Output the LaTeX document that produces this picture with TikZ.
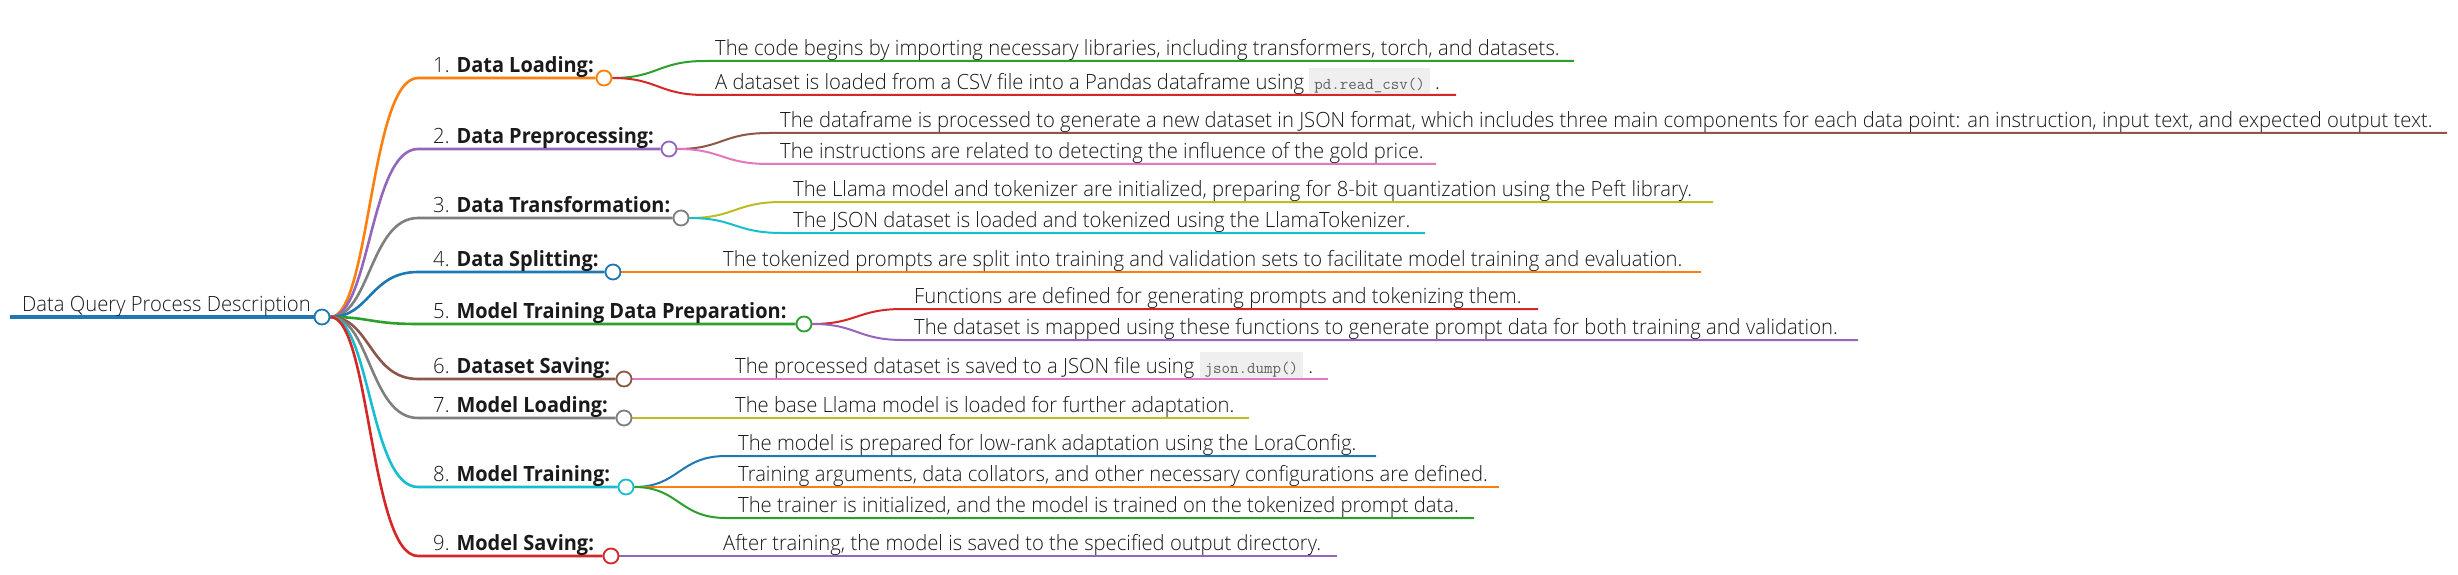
\documentclass[tikz,border=0pt]{standalone}
\usepackage{fontspec}
\setmainfont{Open Sans Light}[FakeStretch=0.963]
\newfontfamily\lblfont{Open Sans}[FakeStretch=0.95]
\pgfdeclarelayer{bg}
\pgfsetlayers{bg,main}
\definecolor{cblue}{HTML}{1F77B4}
\definecolor{corange}{HTML}{FF7F0E}
\definecolor{cgreen}{HTML}{2CA02C}
\definecolor{cred}{HTML}{D62728}
\definecolor{cpurple}{HTML}{9467BD}
\definecolor{cbrown}{HTML}{8C564B}
\definecolor{cpink}{HTML}{E377C2}
\definecolor{cgray}{HTML}{7F7F7F}
\definecolor{colive}{HTML}{BCBD22}
\definecolor{ccyan}{HTML}{17BECF}
\definecolor{txtc}{HTML}{1A1A1A}
\definecolor{codebg}{HTML}{EFEFEF}
\newcommand{\codebx}[1]{{\setlength{\fboxsep}{0pt}\colorbox{codebg}{\hspace{5pt}\rule[-4pt]{0pt}{25.5pt}{\ttfamily\fontsize{16.5}{16.5}\selectfont\color{black!62}#1}\hspace{5pt}}}}
\newcommand{\lbl}[2]{#1 {\lblfont\bfseries #2}}
\begin{document}
\begin{tikzpicture}[x=1pt,y=-1pt,
  dot/.style={circle, draw=#1, fill=white, line width=1.8pt, minimum size=15pt, inner sep=0pt},
  l0/.style={line width=4.5pt, draw=cblue},
  l1/.style={line width=2.6pt, draw=#1},
  l2/.style={line width=2pt, draw=#1},
  txt/.style={anchor=base west, inner sep=0pt, font=\fontsize{21}{24}\selectfont, text=txtc}]
\useasboundingbox (0,0) rectangle (2458,575);

% root
\coordinate (R0) at (10,317);
\node[dot=cblue] (R) at (322,317) {};
\node[txt] (RT) at (22,311.5) {Data Query Process Description};

% level 1
\coordinate (A1) at (418,78);  \node[dot=corange] (N1) at (604,78) {};
\node[txt] (L1) at (433,72.5) {\lbl{1.}{Data Loading:}};
\coordinate (A2) at (418,149); \node[dot=cpurple] (N2) at (669,149) {};
\node[txt] (L2) at (433,143.5) {\lbl{2.}{Data Preprocessing:}};
\coordinate (A3) at (418,218); \node[dot=cgray] (N3) at (681,218) {};
\node[txt] (L3) at (433,212.5) {\lbl{3.}{Data Transformation:}};
\coordinate (A4) at (418,272); \node[dot=cblue] (N4) at (613,272) {};
\node[txt] (L4) at (433,266.5) {\lbl{4.}{Data Splitting:}};
\coordinate (A5) at (418,324); \node[dot=cgreen] (N5) at (804,324) {};
\node[txt] (L5) at (433,318.5) {\lbl{5.}{Model Training Data Preparation:}};
\coordinate (A6) at (418,379); \node[dot=cbrown] (N6) at (624,379) {};
\node[txt] (L6) at (433,373.5) {\lbl{6.}{Dataset Saving:}};
\coordinate (A7) at (418,418); \node[dot=cgray] (N7) at (624,418) {};
\node[txt] (L7) at (433,412.5) {\lbl{7.}{Model Loading:}};
\coordinate (A8) at (418,487); \node[dot=ccyan] (N8) at (626,487) {};
\node[txt] (L8) at (433,481.5) {\lbl{8.}{Model Training:}};
\coordinate (A9) at (418,556); \node[dot=cred] (N9) at (611,556) {};
\node[txt] (L9) at (433,550.5) {\lbl{9.}{Model Saving:}};

% level 2 texts
\coordinate (S11) at (705,61);  \coordinate (E11) at (1574,61);
\node[txt] (C11) at (715,55.5) {The code begins by importing necessary libraries, including transformers, torch, and datasets.};
\coordinate (S12) at (705,95);  \coordinate (E12) at (1456,95);
\node[txt] (C12) at (715,89.5) {A dataset is loaded from a CSV file into a Pandas dataframe using \codebx{pd.read\_csv()} .};
\coordinate (S21) at (769,133); \coordinate (E21) at (2447,133);
\node[txt] (C21) at (780,127.5) {The dataframe is processed to generate a new dataset in JSON format, which includes three main components for each data point: an instruction, input text, and expected output text.};
\coordinate (S22) at (769,164); \coordinate (E22) at (1436,164);
\node[txt] (C22) at (780,158.5) {The instructions are related to detecting the influence of the gold price.};
\coordinate (S31) at (782,202); \coordinate (E31) at (1713,202);
\node[txt] (C31) at (793,196.5) {The Llama model and tokenizer are initialized, preparing for 8-bit quantization using the Peft library.};
\coordinate (S32) at (782,233); \coordinate (E32) at (1425,233);
\node[txt] (C32) at (793,227.5) {The JSON dataset is loaded and tokenized using the LlamaTokenizer.};
\coordinate (E41) at (1701,272);
\node[txt] (C41) at (723,266.5) {The tokenized prompts are split into training and validation sets to facilitate model training and evaluation.};
\coordinate (S51) at (903,309); \coordinate (E51) at (1538,309);
\node[txt] (C51) at (914,303.5) {Functions are defined for generating prompts and tokenizing them.};
\coordinate (S52) at (903,340); \coordinate (E52) at (1858,340);
\node[txt] (C52) at (914,334.5) {The dataset is mapped using these functions to generate prompt data for both training and validation.};
\coordinate (E61) at (1328,379);
\node[txt] (C61) at (735,373.5) {The processed dataset is saved to a JSON file using \codebx{json.dump()} .};
\coordinate (E71) at (1249,418);
\node[txt] (C71) at (735,412.5) {The base Llama model is loaded for further adaptation.};
\coordinate (S81) at (726,456); \coordinate (E81) at (1376,456);
\node[txt] (C81) at (738,450.5) {The model is prepared for low-rank adaptation using the LoraConfig.};
\coordinate (S82) at (726,487); \coordinate (E82) at (1499,487);
\node[txt] (C82) at (738,481.5) {Training arguments, data collators, and other necessary configurations are defined.};
\coordinate (S83) at (726,518); \coordinate (E83) at (1474,518);
\node[txt] (C83) at (738,512.5) {The trainer is initialized, and the model is trained on the tokenized prompt data.};
\coordinate (E91) at (1337,556);
\node[txt] (C91) at (723,550.5) {After training, the model is saved to the specified output directory.};

\begin{pgfonlayer}{bg}
\fill[white] (0,0) rectangle (2458,575);
\draw[l0] (R0) -- (R.west);
% level 1 connectors
\draw[l1=corange] (R.east) .. controls (370,317) and (370,78) .. (A1) -- (N1.west);
\draw[l1=cpurple] (R.east) .. controls (370,317) and (370,149) .. (A2) -- (N2.west);
\draw[l1=cgray]   (R.east) .. controls (370,317) and (370,218) .. (A3) -- (N3.west);
\draw[l1=cblue]   (R.east) .. controls (370,317) and (370,272) .. (A4) -- (N4.west);
\draw[l1=cgreen]  (R.east) .. controls (370,317) and (370,324) .. (A5) -- (N5.west);
\draw[l1=cbrown]  (R.east) .. controls (370,317) and (370,379) .. (A6) -- (N6.west);
\draw[l1=cgray]   (R.east) .. controls (370,317) and (370,418) .. (A7) -- (N7.west);
\draw[l1=ccyan]   (R.east) .. controls (370,317) and (370,487) .. (A8) -- (N8.west);
\draw[l1=cred]    (R.east) .. controls (370,317) and (370,556) .. (A9) -- (N9.west);
% level 2 connectors
\draw[l2=cgreen]  (N1.east) .. controls (658,78) and (658,61) .. (S11) -- (E11);
\draw[l2=cred]    (N1.east) .. controls (658,78) and (658,95) .. (S12) -- (E12);
\draw[l2=cbrown]  (N2.east) .. controls (722,149) and (722,133) .. (S21) -- (E21);
\draw[l2=cpink]   (N2.east) .. controls (722,149) and (722,164) .. (S22) -- (E22);
\draw[l2=colive]  (N3.east) .. controls (735,218) and (735,202) .. (S31) -- (E31);
\draw[l2=ccyan]   (N3.east) .. controls (735,218) and (735,233) .. (S32) -- (E32);
\draw[l2=corange] (N4.east) -- (E41);
\draw[l2=cred]    (N5.east) .. controls (857,324) and (857,309) .. (S51) -- (E51);
\draw[l2=cpurple] (N5.east) .. controls (857,324) and (857,340) .. (S52) -- (E52);
\draw[l2=cpink]   (N6.east) -- (E61);
\draw[l2=colive]  (N7.east) -- (E71);
\draw[l2=cblue]   (N8.east) .. controls (679,487) and (679,456) .. (S81) -- (E81);
\draw[l2=corange] (N8.east) -- (S82) -- (E82);
\draw[l2=cgreen]  (N8.east) .. controls (679,487) and (679,518) .. (S83) -- (E83);
\draw[l2=cpurple] (N9.east) -- (E91);
\end{pgfonlayer}
\end{tikzpicture}
\end{document}
